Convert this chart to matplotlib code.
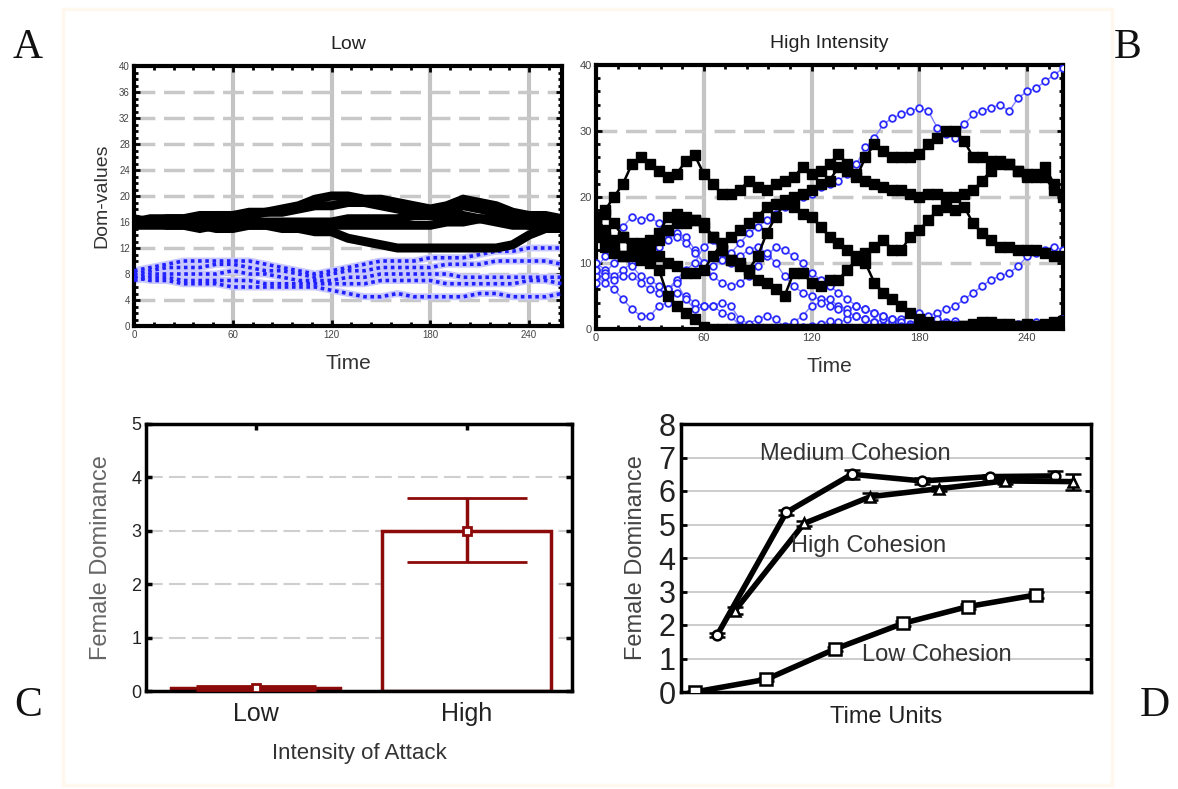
import numpy as np
import matplotlib
matplotlib.use('Agg')
import matplotlib.pyplot as plt
from matplotlib.ticker import MultipleLocator
from matplotlib.patches import Rectangle

# ---------------- data ----------------
# Panel A (Low intensity), values read every 10 time units
A_step = 10
A_males = [
    [16, 16.5, 16.5, 16.5, 17, 17, 17, 17.5, 17.5, 18, 18.5, 19.5, 20, 20, 19.5, 19.5, 19, 18.5, 18, 18.5, 19.5, 19, 18.5, 17.5, 17, 17, 16.5],
    [16, 16, 16.5, 16.5, 16.5, 17, 17, 17, 17.5, 17.5, 18, 18.5, 18.5, 19, 19, 18.5, 18, 17.5, 17.5, 17.5, 18.5, 18, 17.5, 17, 16.5, 16, 16.5],
    [16.5, 16, 16, 16, 16, 16, 16.5, 16, 16, 16, 16, 16, 16, 16.5, 16.5, 16.5, 16.5, 17, 17, 17, 17, 16.5, 16.5, 16, 15.5, 15.5, 16],
    [15.5, 15.5, 15.5, 15.5, 15, 15.5, 15.5, 15.5, 15.5, 15, 15, 14.5, 14.5, 13.5, 13, 12.5, 12, 12, 12, 12, 12, 12, 12, 12.5, 14, 15, 15.5],
    [16, 16, 15.5, 15.5, 15.5, 15, 15, 15.5, 15.5, 15.5, 15, 15, 15.5, 15.5, 15.5, 15.5, 15.5, 15.5, 15.5, 16, 16, 16.5, 16, 15.5, 15.5, 15, 15],
]
A_females = [
    [8.5, 9, 9.5, 10, 10, 10, 10, 10, 9.5, 9, 8.5, 8, 8.5, 9, 9.5, 10, 10, 10, 10.5, 10.5, 10.5, 11, 11.5, 11.5, 12, 12, 12],
    [8, 8.5, 9, 9, 9, 9.5, 9.5, 9, 8.5, 8.5, 8, 7.5, 8, 8.5, 8.5, 9, 9, 9, 9, 9.5, 9.5, 9.5, 10, 10, 10, 10, 9.5],
    [7.5, 8, 8, 8, 8, 8, 8.5, 8, 8, 7.5, 7, 7, 7, 7.5, 7.5, 8, 8, 8, 8, 8, 7.5, 7.5, 7.5, 7.5, 7.5, 7.5, 7.5],
    [7, 7.5, 7.5, 7, 7, 7, 7, 7, 6.5, 6.5, 6.5, 6.5, 6.5, 6.5, 6.5, 7, 7, 7, 7, 6.5, 6.5, 6.5, 6.5, 6.5, 7, 7, 6.5],
    [7.5, 7, 7, 6.5, 6.5, 6.5, 6, 6, 6, 6, 6, 6, 5.5, 5, 4.5, 4.5, 5, 4.5, 4.5, 4.5, 4.5, 5, 5, 4.5, 4.5, 4.5, 5],
]

# Panel B (High intensity), values read every 5 time units
B_step = 5
B_males = [
    [16, 18, 20, 22, 25, 26, 25, 24, 23, 23.5, 25.5, 26.3, 23.5, 22, 20.5, 20.5, 21, 22.5, 21.5, 21, 22, 22.5, 23, 24.5, 23.5, 24, 25, 26.5, 25, 23.5, 22.5, 22, 21.5, 21, 21, 20.5, 20, 20.5, 20.5, 20, 20, 20.5, 21, 22.5, 24, 25.5, 25, 24, 23, 23.5, 24.5, 22, 20.5],
    [15, 14, 13.5, 14, 13, 13, 13.5, 14.5, 17, 17.5, 17, 16.5, 16, 14, 12, 10.5, 10, 9, 11, 14.5, 17, 19, 20, 20.5, 21, 22, 22.5, 24.5, 24, 23, 26, 28, 27, 26, 26, 26, 26.5, 28, 29, 30, 30, 28.5, 26, 26, 25.5, 25, 25, 24, 23.5, 23, 23, 21, 20],
    [17, 15, 12, 11, 11, 10.5, 10, 9, 5, 3.5, 2.5, 1.5, 0.3, 0, 0, 0, 0, 0, 0, 0, 0, 0, 0, 0, 0, 0, 0, 0, 0, 0, 0, 0, 0, 0, 0, 0, 0, 0, 0, 0, 0.3, 0.5, 0.5, 0.8, 1, 0.8, 0.5, 0.5, 0.8, 0.5, 0.3, 0.5, 0.8],
    [14, 12.5, 11.5, 11, 11.5, 12, 12.5, 13.5, 15, 16, 16, 16.5, 15.5, 14, 12, 10.5, 9.5, 8.5, 7.5, 7, 6, 5, 8.5, 8.5, 7, 6.5, 7.5, 7.5, 9, 10.5, 11.5, 12.5, 13.5, 12, 12, 14, 15, 16.5, 18, 18.5, 18, 18.5, 16, 14.5, 13.5, 12.5, 12.5, 12, 12, 12, 11.5, 11, 11],
    [16.5, 17.5, 16, 14, 12, 11.5, 11, 11, 10, 9.5, 8.5, 8.5, 9, 11, 13, 14, 15, 16, 17, 18.5, 19, 19.5, 18.5, 17.5, 17, 15.5, 14, 13, 12, 11, 10, 7, 5.5, 4.5, 3.5, 2.5, 1.5, 1, 0.5, 0.5, 0.3, 0.5, 0.8, 1, 0.7, 0.5, 0.8, 0.5, 0.3, 0.5, 0.8, 1, 1.2],
]
B_females = [
    [10, 9, 8, 9, 10, 11, 12, 12.5, 13.5, 14.5, 14, 12, 10, 9.5, 10.5, 11.5, 13, 14.5, 15.5, 16.5, 17.5, 18.5, 19.5, 20, 20.5, 21.5, 22, 22.5, 23.5, 25, 27.5, 29, 31, 32, 32.5, 33, 33.5, 33, 30.5, 29.5, 29, 31, 32.5, 33, 33.5, 34, 33, 35, 36, 36.5, 37.5, 38.5, 39.5],
    [9, 11, 13, 15.5, 17, 16.5, 17, 16, 14.5, 14, 13, 11.5, 10, 8, 7, 6.5, 7, 8, 9.5, 11, 12.5, 12, 11, 10, 8.5, 7.5, 6.5, 5.5, 4.5, 3.5, 3, 2.5, 2, 1.5, 1.5, 2.5, 2.5, 2, 2.5, 3, 3.5, 4.5, 5.5, 6.5, 7.5, 8, 8.5, 9.5, 11, 11.5, 12, 12.5, 12],
    [8, 7, 6, 4.5, 3, 2, 2, 3.5, 4, 5.5, 5, 4, 3.5, 3.5, 4, 3.5, 1.5, 0.8, 1.5, 2, 1.5, 0.3, 0.2, 0.3, 0.5, 0.8, 1.2, 1, 1.5, 2, 1.5, 1, 1.5, 1, 0.5, 0.8, 1.5, 1.2, 1, 0.8, 1.2, 0.5, 0.3, 0.5, 0.3, 0.2, 0.5, 0.8, 0.5, 0.3, 0.5, 1, 1.5],
    [7, 8.5, 10, 11, 9.5, 8, 7.5, 6.5, 6, 7.5, 9, 10, 12.5, 13.5, 11.5, 10, 11, 12, 12.5, 11.5, 10, 8, 6.5, 5.5, 5, 4.5, 4.5, 3.5, 3, 3.5, 3, 2.5, 2, 1.5, 1, 0.5, 0.5, 1, 1.5, 1, 0.8, 0.5, 0.8, 1, 0.8, 0.5, 0.3, 0.5, 0.8, 0.5, 0.3, 0.8, 0.5],
    [9, 8, 7.5, 8, 8, 7, 6, 5.5, 6, 7, 4.5, 3, 3.5, 3.5, 2.5, 2, 0.5, 0.2, 0.3, 0.2, 0.2, 0.5, 1, 2, 3.5, 4, 3.5, 3, 2.5, 2, 1.5, 1, 0.5, 0.3, 0.5, 0.3, 0.5, 0.3, 0.5, 0.8, 0.5, 0.3, 0.5, 0.3, 0.5, 0.8, 0.5, 0.3, 0.5, 1, 0.5, 0.3, 0.5],
]

# Panel C
C_categories = ['Low', 'High']
C_means = [0.06, 3.0]
C_err_low = [0.05, 0.58]
C_err_high = [0.04, 0.62]

# Panel D
D_low_x = [0.2, 1.25, 2.25, 3.25, 4.2, 5.2]
D_low_y = [0.0, 0.38, 1.28, 2.05, 2.55, 2.9]
D_low_err = [0.03, 0.05, 0.06, 0.08, 0.07, 0.1]
D_med_x = [0.53, 1.54, 2.5, 3.53, 4.52, 5.47]
D_med_y = [1.7, 5.36, 6.5, 6.3, 6.43, 6.45]
D_med_err = [0.06, 0.08, 0.14, 0.1, 0.06, 0.16]
D_high_x = [0.79, 1.8, 2.77, 3.78, 4.74, 5.74]
D_high_y = [2.43, 5.03, 5.83, 6.07, 6.3, 6.28]
D_high_err = [0.1, 0.08, 0.1, 0.08, 0.1, 0.24]

# ---------------- figure ----------------
W, H = 1178, 789
fig = plt.figure(figsize=(W / 100, H / 100), dpi=100)
fig.patch.set_facecolor('white')


def fx(px):
    return px / W


def fy(py):
    return 1 - py / H


fig.add_artist(Rectangle((fx(63), fy(785)), fx(1112) - fx(63), fy(9) - fy(785),
                         transform=fig.transFigure, fill=False,
                         edgecolor='#fef8ee', lw=2.5))

NARROW = ['Liberation Sans Narrow', 'Liberation Sans', 'DejaVu Sans']
SANS = ['Liberation Sans', 'DejaVu Sans']
SERIF = ['Liberation Serif', 'DejaVu Serif']
plt.rcParams['font.family'] = SANS


def add_ax(l, t, r, b):
    return fig.add_axes([fx(l), fy(b), fx(r) - fx(l), fy(t) - fy(b)])


def style_ts(ax, ymax, ymaj, ymin, tick_fs):
    ax.set_xlim(0, 260)
    ax.set_ylim(0, ymax)
    ax.xaxis.set_major_locator(MultipleLocator(60))
    ax.xaxis.set_minor_locator(MultipleLocator(12))
    ax.yaxis.set_major_locator(MultipleLocator(ymaj))
    ax.yaxis.set_minor_locator(MultipleLocator(ymin))
    ax.tick_params(which='both', direction='in', top=True, right=True,
                   color='black', labelsize=tick_fs, labelcolor='#444', pad=3)
    ax.tick_params(which='major', length=4, width=2)
    ax.tick_params(which='minor', length=3, width=2)
    for s in ax.spines.values():
        s.set_linewidth(3)
    for xv in [60, 120, 180, 240]:
        ax.axvline(xv, color='#c4c4c4', lw=3, zorder=0)
    yv = ymaj
    while yv < ymax - 1e-9:
        ax.axhline(yv, color='#c8c8c8', lw=2.5, ls=(0, (6, 2.5)), zorder=0)
        yv += ymaj


# ---- Panel A ----
axA = add_ax(134, 66, 562, 326)
style_ts(axA, 40, 4, 1, 7)
for s in A_females:
    t = np.arange(len(s)) * A_step
    axA.plot(t, s, color='#c9c9ff', lw=5, solid_capstyle='round', zorder=2)
    axA.plot(t, s, color='#2020ff', lw=2.6, ls=(0, (1, 1)), zorder=3)
for s in A_males:
    t = np.arange(len(s)) * A_step
    axA.plot(t, s, color='black', lw=6.5, zorder=4, solid_joinstyle='miter')
axA.set_ylabel('Dom-values', fontsize=14, color='#333', labelpad=6)
axA.set_xlabel('Time', fontsize=15, color='#333', labelpad=10)
axA.set_title('Low', fontsize=14, pad=12, color='#222')

# ---- Panel B ----
axB = add_ax(596, 65, 1063, 329)
style_ts(axB, 40, 10, 2, 8)
for s in B_females:
    t = np.arange(len(s)) * B_step
    axB.plot(t, s, color='#8080ff', lw=1.0, zorder=2)
    axB.plot(t, s, ls='none', marker='o', ms=4.8, mfc='white', mec='#2a2aff',
             mew=1.3, zorder=3)
for s in B_males:
    t = np.arange(len(s)) * B_step
    axB.plot(t, s, color='black', lw=1.8, zorder=4)
    axB.plot(t, s, ls='none', marker='s', ms=6.5, color='black', zorder=5)
axB.set_xlabel('Time', fontsize=15, color='#333', labelpad=10)
axB.set_title('High Intensity', fontsize=14, pad=12, color='#222')

# ---- Panel C ----
RED = '#8c0a0a'
axC = add_ax(146, 424, 572, 691)
xc = np.arange(len(C_categories))
axC.bar(xc, C_means, width=0.8, color='white', edgecolor=RED, lw=2.5, zorder=2)
axC.errorbar(xc, C_means, yerr=[C_err_low, C_err_high], fmt='s', ms=6,
             mfc='white', mec=RED, mew=2, ecolor=RED, elinewidth=2.5,
             capsize=43, capthick=2.5, zorder=3)
axC.set_xlim(-0.52, 1.50)
axC.set_ylim(0, 5)
axC.set_xticks(xc)
axC.set_xticklabels(C_categories, fontsize=18, color='#222')
axC.set_yticks(range(0, 6))
axC.tick_params(axis='y', labelsize=13, labelcolor='#222')
axC.tick_params(which='both', direction='in', top=True, right=True,
                length=4, width=2.5, color='black')
axC.tick_params(axis='x', pad=8)
for yv in [1, 2, 3, 4]:
    axC.axhline(yv, color='#cfcfcf', lw=1.5, ls=(0, (8, 3)), zorder=0)
for s in axC.spines.values():
    s.set_linewidth(2.5)
axC.set_ylabel('Female Dominance', fontsize=17, color='#666', labelpad=14)
axC.set_xlabel('Intensity of Attack', fontsize=16, color='#333', labelpad=12)

# ---- Panel D ----
axD = add_ax(681, 424, 1091, 692)
axD.set_xlim(0, 6)
axD.set_ylim(0, 8)
axD.set_yticks(range(0, 9))
axD.set_xticks([])
axD.tick_params(axis='y', labelsize=22, labelcolor='#222', direction='in',
                right=True, length=4, width=2, pad=4)
for yv in range(1, 8):
    axD.axhline(yv, color='#c8c8c8', lw=1.3, zorder=0)
for s in axD.spines.values():
    s.set_linewidth(2.5)
common = dict(color='black', lw=4, mfc='white', mec='black', mew=1.8,
              ecolor='black', elinewidth=2, capsize=6, capthick=2.5, zorder=3)
axD.errorbar(D_low_x, D_low_y, yerr=D_low_err, marker='s', ms=8, **common)
axD.errorbar(D_med_x, D_med_y, yerr=D_med_err, marker='o', ms=7, **common)
axD.errorbar(D_high_x, D_high_y, yerr=D_high_err, marker='^', ms=7, **common)
axD.text(2.55, 7.1, 'Medium Cohesion', fontsize=17, color='#333', ha='center', va='center', zorder=5)
axD.text(2.75, 4.35, 'High Cohesion', fontsize=17, color='#333', ha='center', va='center', zorder=5)
axD.text(3.75, 1.1, 'Low Cohesion', fontsize=17, color='#333', ha='center', va='center', zorder=5)
axD.set_ylabel('Female Dominance', fontsize=17, color='#444', labelpad=8)
axD.set_xlabel('Time Units', fontsize=17, color='#222', labelpad=10)

# ---- panel letters ----
for letter, px, py in [('A', 28, 48), ('B', 1128, 48), ('C', 28, 706), ('D', 1155, 706)]:
    fig.text(fx(px), fy(py), letter, family=SERIF, fontsize=30,
             ha='center', va='center', color='#111')

fig.savefig('out.png', dpi=100, facecolor='white')
